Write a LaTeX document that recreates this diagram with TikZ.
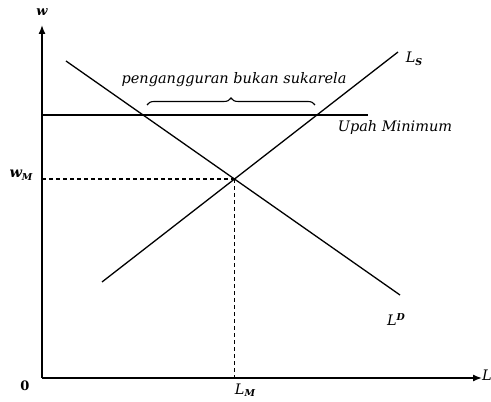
\documentclass[tikz,border=0pt]{standalone}
\usepackage{fontspec}
\setmainfont{DejaVu Serif}
\usetikzlibrary{arrows.meta,decorations.pathreplacing,calc}
\newcommand{\subit}[1]{\raisebox{-2.5pt}{\fontsize{9.5}{10}\selectfont\itshape\bfseries #1}}
\newcommand{\supit}[1]{\raisebox{5pt}{\fontsize{9.5}{10}\selectfont\itshape\bfseries #1}}
\begin{document}
\begin{tikzpicture}[x=1pt,y=1pt,
  curve/.style={line width=1.3pt},
  axis/.style={line width=1.4pt,-{Latex[length=9pt,width=7pt]}},
  guide/.style={line width=1.2pt,dash pattern=on 4pt off 3pt},
  lbl/.style={font=\fontsize{14.5}{16}\selectfont\itshape},
  plain/.style={font=\fontsize{13}{15}\selectfont\bfseries}]
\useasboundingbox (0,0) rectangle (491,402);
\coordinate (O) at (42,24);
\coordinate (Ytop) at (42,377);
\coordinate (Xend) at (482,24);
\coordinate (D1) at (66,341);
\coordinate (D2) at (400,107);
\coordinate (S1) at (102,120);
\coordinate (S2) at (398,350);
\coordinate (M1) at (42,287);
\coordinate (M2) at (368,287);
\coordinate (E) at (intersection of D1--D2 and S1--S2);
\coordinate (Ey) at (O |- E);
\coordinate (Ex) at (E |- O);
\coordinate (B1) at (147,297);
\coordinate (B2) at (315,297);
\draw[axis] (O) -- (Ytop);
\draw[axis] (O) -- (Xend);
\draw[curve] (D1) -- (D2);
\draw[curve] (S1) -- (S2);
\draw[curve] (M1) -- (M2);
\draw[guide] (Ey) -- (E);
\draw[guide] (E) -- (Ex);
\draw[line width=1.1pt,decorate,decoration={brace,amplitude=7pt}] (B1) -- (B2);
\node[plain,font=\fontsize{13}{15}\selectfont\bfseries\itshape] (w) at (42,390) {w};
\node[plain] (zero) at (25,16) {0};
\node[lbl,anchor=west,inner sep=0pt] (L) at (482,27) {L};
\node[lbl] (wM) at (21,227) {\textbf{w}\subit{M}};
\node[lbl] (LM) at (245,12) {L\subit{M}};
\node[lbl] (LS) at (414,343) {L\subit{S}};
\node[lbl] (LD) at (396,82) {L\supit{D}};
\node[lbl] (um) at (395,274) {Upah Minimum};
\node[lbl] (pbs) at (234,322) {pengangguran bukan sukarela};
\end{tikzpicture}
\end{document}
